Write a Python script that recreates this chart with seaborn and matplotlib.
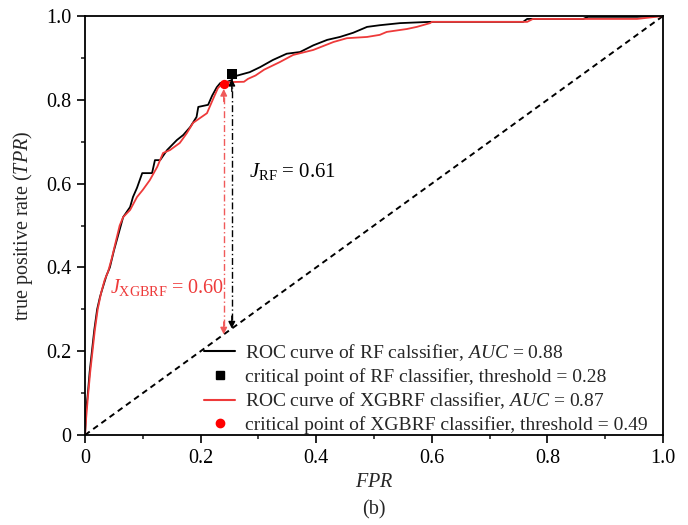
import matplotlib
matplotlib.use("Agg")
import matplotlib.pyplot as plt
import seaborn as sns
import pandas as pd
from matplotlib.lines import Line2D

# ---- data ----
rf_fpr = [0, 0.002, 0.005, 0.008, 0.012, 0.016, 0.021, 0.026, 0.031, 0.037, 0.043, 0.050,
          0.058, 0.066, 0.078, 0.083, 0.090, 0.099, 0.116, 0.121, 0.130, 0.142, 0.159, 0.170,
          0.182, 0.193, 0.196, 0.213, 0.220, 0.228, 0.234, 0.246, 0.254, 0.256, 0.285, 0.303,
          0.325, 0.349, 0.372, 0.395, 0.419, 0.441, 0.464, 0.488, 0.510, 0.545, 0.597, 0.758,
          0.765, 0.862, 0.870, 0.955, 1.0]
rf_tpr = [0, 0.06, 0.10, 0.15, 0.20, 0.25, 0.30, 0.33, 0.353, 0.38, 0.40, 0.44,
          0.48, 0.52, 0.544, 0.568, 0.59, 0.625, 0.625, 0.656, 0.656, 0.68, 0.704, 0.716,
          0.735, 0.759, 0.783, 0.788, 0.81, 0.83, 0.84, 0.843, 0.847, 0.855, 0.866, 0.878,
          0.895, 0.91, 0.914, 0.93, 0.943, 0.95, 0.96, 0.974, 0.978, 0.983, 0.986, 0.986,
          0.993, 0.993, 0.998, 0.998, 1.0]

xg_fpr = [0, 0.002, 0.005, 0.009, 0.013, 0.017, 0.022, 0.028, 0.034, 0.040, 0.046, 0.053,
          0.060, 0.066, 0.078, 0.090, 0.100, 0.112, 0.125, 0.135, 0.147, 0.164, 0.176, 0.187,
          0.211, 0.221, 0.230, 0.240, 0.275, 0.282, 0.295, 0.310, 0.337, 0.360, 0.395, 0.430,
          0.453, 0.488, 0.510, 0.522, 0.557, 0.574, 0.597, 0.600, 0.765, 0.775, 0.955, 1.0]
xg_tpr = [0, 0.04, 0.09, 0.15, 0.20, 0.25, 0.30, 0.34, 0.37, 0.39, 0.42, 0.46,
          0.50, 0.52, 0.537, 0.568, 0.585, 0.608, 0.64, 0.673, 0.68, 0.697, 0.72, 0.745,
          0.768, 0.80, 0.828, 0.842, 0.843, 0.85, 0.858, 0.872, 0.89, 0.907, 0.919, 0.938,
          0.947, 0.95, 0.955, 0.962, 0.969, 0.974, 0.983, 0.986, 0.986, 0.993, 0.993, 1.0]

rf_crit = (0.254, 0.862)
xg_crit = (0.240, 0.838)
rf_J = "0.61"
xg_J = "0.60"
rf_auc, xg_auc = "0.88", "0.87"
rf_thr, xg_thr = "0.28", "0.49"
ticks = [0, 0.2, 0.4, 0.6, 0.8, 1.0]
tick_labels = ["0", "0.2", "0.4", "0.6", "0.8", "1.0"]

RED = "#ee3a3a"
RED_LIGHT = "#f05a5a"

sns.set_theme(style="ticks")
plt.rcParams["font.family"] = ["Liberation Serif", "DejaVu Serif"]
plt.rcParams["mathtext.fontset"] = "custom"
plt.rcParams["mathtext.rm"] = "Liberation Serif"
plt.rcParams["mathtext.it"] = "Liberation Serif:italic"
plt.rcParams["mathtext.bf"] = "Liberation Serif:bold"

fig = plt.figure(figsize=(6.88, 5.25), dpi=100)
ax = fig.add_axes([85/688, 1-435/525, 578/688, 419/525])

df_rf = pd.DataFrame({"fpr": rf_fpr, "tpr": rf_tpr})
df_xg = pd.DataFrame({"fpr": xg_fpr, "tpr": xg_tpr})

# diagonal
sns.lineplot(x=[0, 1], y=[0, 1], ax=ax, color="black", lw=1.4, linestyle=(0, (3, 2.2)),
             sort=False, estimator=None)
sns.lineplot(data=df_rf, x="fpr", y="tpr", ax=ax, color="black", lw=1.3,
             sort=False, estimator=None)
sns.lineplot(data=df_xg, x="fpr", y="tpr", ax=ax, color=RED, lw=1.3,
             sort=False, estimator=None)

# dash-dot vertical lines with double arrowheads
def vline_arrow(x, ytop, ybot, color):
    ax.plot([x, x], [ybot + 0.02, ytop - 0.02], color=color, lw=1.0,
            linestyle=(0, (5, 2, 1, 2)))
    ax.annotate("", xy=(x, ybot), xytext=(x, ybot + 0.03),
                arrowprops=dict(arrowstyle="-|>", color=color, lw=1.0,
                                mutation_scale=10, shrinkA=0, shrinkB=0))
    ax.annotate("", xy=(x, ytop), xytext=(x, ytop - 0.03),
                arrowprops=dict(arrowstyle="-|>", color=color, lw=1.0,
                                mutation_scale=10, shrinkA=0, shrinkB=0))

vline_arrow(rf_crit[0], rf_crit[1] - 0.012, rf_crit[0], "black")
vline_arrow(xg_crit[0], xg_crit[1] - 0.012, xg_crit[0], RED_LIGHT)

sns.scatterplot(x=[rf_crit[0]], y=[rf_crit[1]], ax=ax, marker="s", color="black",
                s=45, edgecolor="black", linewidth=0, zorder=5)
sns.scatterplot(x=[xg_crit[0]], y=[xg_crit[1]], ax=ax, marker="o", color="red",
                s=45, edgecolor="red", linewidth=0, zorder=5)

ax.text(0.283, 0.628, r"$J_{\mathrm{RF}}$ = " + rf_J, fontsize=15, color="black",
        va="center", ha="left")
ax.text(0.043, 0.352, r"$J_{\mathrm{XGBRF}}$ = " + xg_J, fontsize=14.5, color=RED,
        va="center", ha="left")

ax.set_xlim(0, 1)
ax.set_ylim(0, 1)
ax.set_xticks(ticks)
ax.set_xticklabels(tick_labels)
ax.set_yticks(ticks)
ax.set_yticklabels(tick_labels)
ax.set_xticks([0.1, 0.3, 0.5, 0.7, 0.9], minor=True)
ax.set_yticks([0.1, 0.3, 0.5, 0.7, 0.9], minor=True)
ax.tick_params(which="major", direction="out", length=6, width=1.2, labelsize=14.5,
               colors="black", pad=4, top=False, right=False)
ax.tick_params(which="minor", direction="out", length=3, width=1.2, top=False, right=False)
for sp in ax.spines.values():
    sp.set_visible(True)
    sp.set_linewidth(1.3)
    sp.set_color("black")

ax.set_xlabel("$FPR$", fontsize=14.5, labelpad=4)
ax.set_ylabel("true positive rate ($TPR$)", fontsize=14.5, labelpad=8)

handles = [
    Line2D([], [], color="black", lw=1.5),
    Line2D([], [], color="black", marker="s", linestyle="none", markersize=6),
    Line2D([], [], color=RED, lw=1.5),
    Line2D([], [], color="red", marker="o", linestyle="none", markersize=6),
]
labels = [
    "ROC curve of RF calssifier, $AUC$ = " + rf_auc,
    "critical point of RF classifier, threshold = " + rf_thr,
    "ROC curve of XGBRF classifier, $AUC$ = " + xg_auc,
    "critical point of XGBRF classifier, threshold = " + xg_thr,
]
ax.legend(handles, labels, loc="lower right", frameon=False, fontsize=14,
          handlelength=1.6, handletextpad=0.5, labelspacing=0.25,
          bbox_to_anchor=(0.975, 0.0), borderaxespad=0.0, borderpad=0.05)

fig.text(374/688, 1 - 510/525, "(b)", fontsize=14.5, ha="center", va="center")

fig.savefig("out.png", dpi=100)
